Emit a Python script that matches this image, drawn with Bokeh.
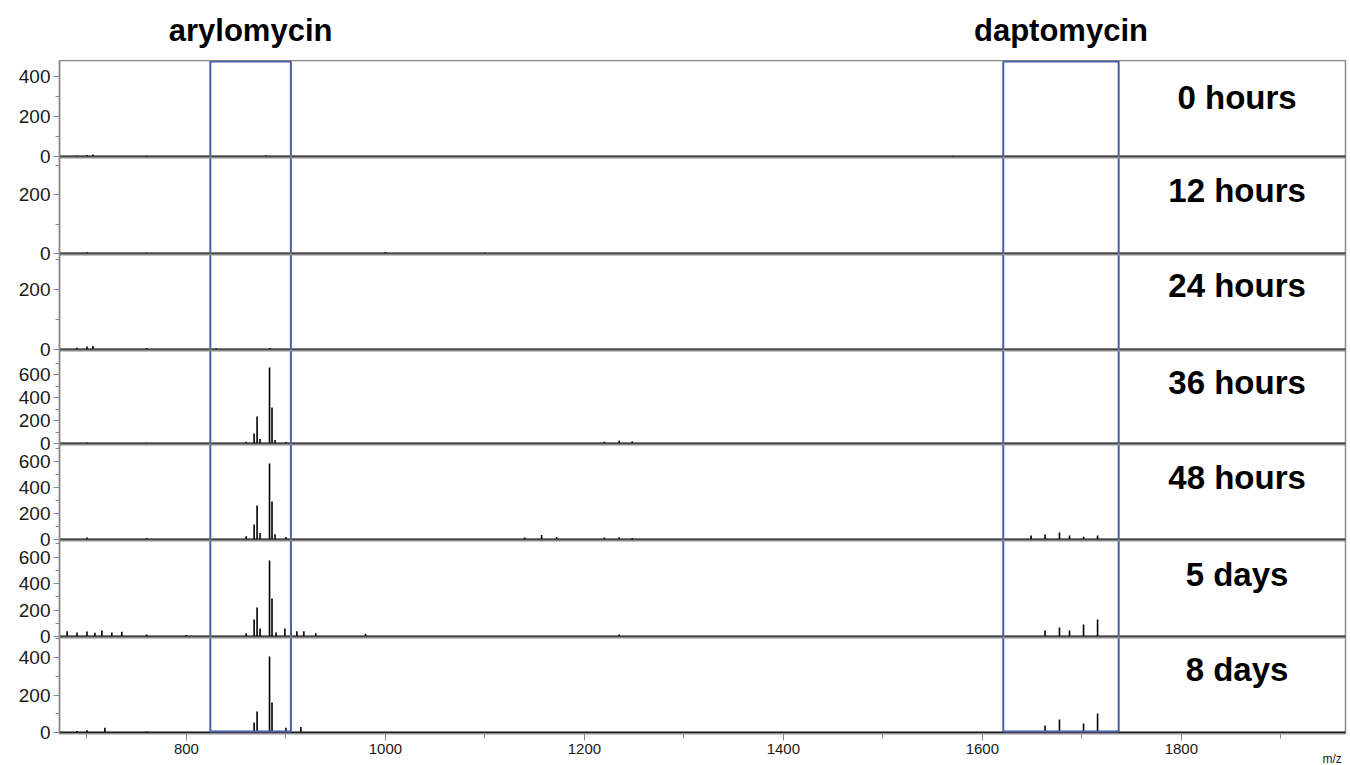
from bokeh.plotting import figure
from bokeh.layouts import column
from bokeh.models import Range1d, FixedTicker, Span, LinearAxis
from bokeh.core.properties import value
from bokeh.embed import file_html
from bokeh.resources import INLINE

# ---------------- data ----------------
panel_labels = ["0 hours", "12 hours", "24 hours", "36 hours", "48 hours", "5 days", "8 days"]

mz_0h = [690, 700, 706, 760, 880, 1000, 1570]
int_0h = [5, 8, 10, 4, 6, 3, 4]

mz_12h = [700, 760, 905, 1000, 1100]
int_12h = [4, 3, 4, 5, 3]

mz_24h = [690, 700, 706, 760, 830, 884]
int_24h = [6, 10, 12, 5, 4, 5]

mz_36h = [700, 760, 860, 868, 871, 874, 883.5, 886, 889, 900, 1220, 1235, 1248]
int_36h = [8, 6, 15, 87, 235, 40, 661, 313, 30, 12, 15, 25, 18]

mz_48h = [700, 760, 860, 868, 871, 874, 883.5, 886, 889, 900, 1140, 1157, 1172, 1220, 1235, 1248,
          1649, 1663, 1677.5, 1687.6, 1701.7, 1715.8]
int_48h = [15, 12, 25, 115, 262, 50, 585, 292, 40, 20, 15, 35, 20, 15, 18, 12,
           30, 38, 54, 30, 22, 30]

mz_5d = [680, 690, 700, 708, 715, 725, 735, 760, 800, 860, 868, 871, 874, 883.5, 886, 890,
         899, 905, 911, 918, 930, 980, 1235, 1663, 1677.5, 1687.6, 1701.7, 1715.8]
int_5d = [40, 30, 38, 28, 45, 30, 35, 15, 12, 25, 128, 219, 60, 574, 287, 30,
          60, 45, 40, 40, 25, 20, 15, 45, 68, 45, 90, 128]

mz_8d = [690, 700, 718, 760, 868, 871, 883.5, 886, 900, 915, 1663, 1677.5, 1687.6, 1701.7, 1715.8]
int_8d = [8, 12, 25, 6, 53, 112, 405, 160, 25, 30, 37, 69, 10, 48, 101]

spectra_mz = [mz_0h, mz_12h, mz_24h, mz_36h, mz_48h, mz_5d, mz_8d]
spectra_int = [int_0h, int_12h, int_24h, int_36h, int_48h, int_5d, int_8d]

y_major = [[0, 200, 400], [0, 200], [0, 200], [0, 200, 400, 600], [0, 200, 400, 600],
           [0, 200, 400, 600], [0, 200, 400]]
y_minor = [[100, 300], [100, 300], [100, 300], [100, 300, 500, 700], [100, 300, 500, 700],
           [100, 300, 500, 700], [100, 300, 500]]

x_major = [800, 1000, 1200, 1400, 1600, 1800]
x_minor = [700, 900, 1100, 1300, 1500, 1700, 1900]
x_title = "m/z"

aryl_box = (824, 905)
dapto_box = (1621, 1737)
titles = ["arylomycin", "daptomycin"]
title_x = [864.5, 1679]

# ---------------- layout (pixels) ----------------
XMIN, XMAX = 672.4, 1965
FRAME_W = 1286
FRAME_H = 673
LEFT = 59
TOP = 60
# height (px above frame bottom) of each panel's zero line, and px per intensity unit
zero_px = [577, 480, 384, 290, 194, 97, 1]
scales = [0.2, 0.295, 0.3, 0.115, 0.13, 0.1325, 0.1875]
sep_px = [576, 479, 383, 289, 193, 96]
label_px = [636, 543, 448, 351, 256, 159, 64]

BLUE = "#4b5ea8"
GREY = "#8a8a8a"
FONT = "Liberation Sans"

x_range = Range1d(XMIN, XMAX)

# ---- title strip ----
tf = figure(width=LEFT + FRAME_W + 5, height=TOP, x_range=x_range, y_range=Range1d(0, TOP),
            output_backend="svg", toolbar_location=None,
            x_axis_location=None, y_axis_location=None,
            min_border_left=LEFT, min_border_right=5, min_border_top=0, min_border_bottom=0)
tf.grid.visible = False
tf.outline_line_color = None
tf.text(x=title_x, y=[30, 30], text=titles, text_align="center", text_baseline="middle",
        text_font=value(FONT), text_font_style="bold", text_font_size="31px", text_color="black")

# ---- main plot ----
p = figure(frame_width=FRAME_W, frame_height=FRAME_H, x_range=x_range,
           y_range=Range1d(0, FRAME_H),
           output_backend="svg", toolbar_location=None,
           y_axis_location=None,
           min_border_left=LEFT, min_border_right=5, min_border_top=0, min_border_bottom=0)
p.grid.visible = False
p.outline_line_color = GREY
p.outline_line_width = 1.5

# per-panel ranges so every spectrum is drawn on its own intensity scale
for i in range(len(panel_labels)):
    s = scales[i]
    p.extra_y_ranges[f"p{i}"] = Range1d(-zero_px[i] / s, (FRAME_H - zero_px[i]) / s)

# left axis carrying all panels' ticks
ticks, minors, overrides = [], [], {}
for i in range(len(panel_labels)):
    for v in y_major[i]:
        pos = round(zero_px[i] + v * scales[i], 2)
        ticks.append(pos)
        overrides[pos] = str(v)
    for v in y_minor[i]:
        minors.append(round(zero_px[i] + v * scales[i], 2))
ya = LinearAxis(ticker=FixedTicker(ticks=ticks, minor_ticks=minors),
                major_label_overrides=overrides)
ya.axis_line_color = GREY
ya.axis_line_width = 1.5
ya.major_tick_line_color = GREY
ya.minor_tick_line_color = GREY
ya.major_tick_in = 0
ya.major_tick_out = 6
ya.minor_tick_in = 0
ya.minor_tick_out = 4
ya.major_label_text_font = FONT
ya.major_label_text_font_size = "19px"
ya.major_label_text_color = "#1a1a1a"
ya.major_label_standoff = 3
p.add_layout(ya, "left")

xa = p.xaxis[0]
xa.ticker = FixedTicker(ticks=x_major, minor_ticks=x_minor)
xa.axis_line_color = GREY
xa.axis_line_width = 1.5
xa.major_tick_line_color = GREY
xa.minor_tick_line_color = GREY
xa.major_tick_in = 0
xa.major_tick_out = 7
xa.minor_tick_in = 0
xa.minor_tick_out = 5
xa.major_label_text_font = FONT
xa.major_label_text_font_size = "15px"
xa.major_label_text_color = "#1a1a1a"
xa.major_label_standoff = 3
xa.axis_label_text_font = FONT
xa.axis_label_text_font_size = "12px"
xa.axis_label_text_font_style = "normal"
xa.axis_label_text_color = "#1a1a1a"
xa.axis_label_standoff = -5
if "axis_label_align" in xa.properties():
    xa.axis_label_align = "end"
    # the end-aligned label is centred on the frame edge: pad it with figure spaces
    xa.axis_label = x_title + "\u2007" * 4
else:
    xa.axis_label = x_title

# panel separators
for sp in sep_px:
    p.add_layout(Span(location=sp, dimension="width", line_color=GREY, line_width=2))

# spectra
for i in range(len(panel_labels)):
    rn = f"p{i}"
    p.line([XMIN, XMAX], [0, 0], line_color="black", line_width=2, y_range_name=rn)
    mz = spectra_mz[i]
    it = spectra_int[i]
    p.segment(x0=mz, y0=[0] * len(mz), x1=mz, y1=it, line_color="black", line_width=1.6,
              y_range_name=rn)

# panel labels
p.text(x=[1856] * len(panel_labels), y=label_px, text=panel_labels,
       text_align="center", text_baseline="middle",
       text_font=value(FONT), text_font_style="bold", text_font_size="33px", text_color="black")

# highlight boxes
p.quad(left=[aryl_box[0], dapto_box[0]], right=[aryl_box[1], dapto_box[1]],
       bottom=[2, 2], top=[FRAME_H - 1, FRAME_H - 1],
       fill_color=None, line_color=BLUE, line_width=2)

layout = column(tf, p, spacing=0)
open("out.html", "w").write(file_html(layout, INLINE))
